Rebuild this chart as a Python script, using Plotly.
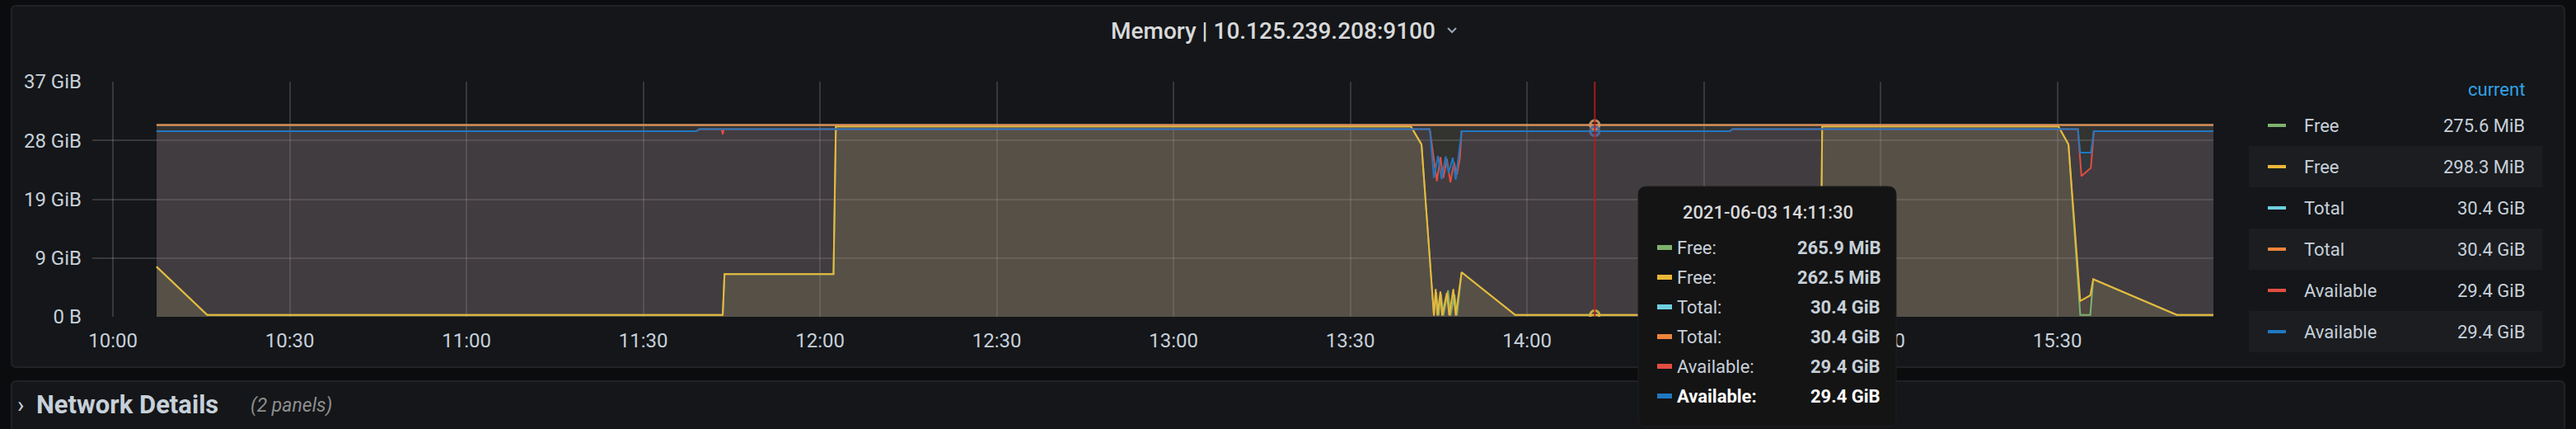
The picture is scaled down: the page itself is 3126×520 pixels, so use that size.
import plotly.graph_objects as go

DAY = "2021-06-03 "

# ---------------- data (GiB) ----------------
total_t = ["10:07:24", "15:56:30"]
total_v = [30.4, 30.4]

avail_blue_t = ["10:07:24", "11:39:00", "11:39:30", "13:43:30", "13:44:12", "13:44:54", "13:45:30",
                "13:46:12", "13:46:42", "13:47:24", "13:47:54", "13:48:24", "13:48:54", "14:34:24",
                "14:34:54", "15:33:30", "15:33:54", "15:35:42", "15:36:12", "15:56:30"]
avail_blue_v = [29.4, 29.4, 29.75, 29.75, 22.0, 25.5, 21.8,
                25.4, 22.8, 25.2, 21.7, 25.5, 29.4, 29.4,
                29.75, 29.75, 26.0, 26.0, 29.4, 29.4]

avail_red_t = ["10:07:24", "11:39:00", "11:39:30", "11:43:18", "11:43:30", "11:43:42", "13:43:30",
               "13:44:12", "13:44:42", "13:45:18", "13:45:48", "13:46:24", "13:47:00", "13:47:36",
               "13:48:06", "13:48:36", "13:48:54", "14:34:24", "14:34:54", "15:33:30", "15:34:06",
               "15:35:42", "15:36:12", "15:56:30"]
avail_red_v = [29.4, 29.4, 29.75, 29.75, 28.9, 29.75, 29.75,
               25.0, 21.5, 25.3, 22.0, 25.0, 21.3, 24.5,
               22.5, 25.0, 29.4, 29.4, 29.75, 29.75, 22.3,
               23.6, 29.4, 29.4]

free_yellow_t = ["10:07:24", "10:16:00", "11:43:30", "11:43:48", "12:02:18", "12:02:42", "13:40:18",
                 "13:42:06", "13:44:12", "13:44:30", "13:44:48", "13:45:18", "13:45:36", "13:46:24",
                 "13:46:48", "13:47:30", "13:47:54", "13:48:30", "13:48:54", "13:58:00", "14:49:48",
                 "14:50:06", "15:30:12", "15:31:54", "15:33:54", "15:35:36", "15:36:06", "15:50:18",
                 "15:56:30"]
free_yellow_v = [7.95, 0.3, 0.3, 6.75, 6.75, 30.15, 30.15,
                 27.3, 0.2, 4.4, 0.2, 4.0, 0.2, 3.8,
                 0.2, 4.4, 0.2, 4.2, 7.05, 0.3, 0.3,
                 30.15, 30.15, 27.3, 2.5, 3.4, 5.95, 0.3,
                 0.3]

free_green_t = ["10:07:24", "10:16:00", "11:43:30", "11:43:48", "12:02:18", "12:02:42", "13:40:18",
                "13:42:06", "13:44:12", "13:44:36", "13:45:00", "13:45:24", "13:45:48", "13:46:36",
                "13:47:00", "13:47:42", "13:48:06", "13:48:54", "13:58:00", "14:49:48", "14:50:06",
                "15:30:12", "15:31:54", "15:33:54", "15:35:36", "15:36:06", "15:50:18", "15:56:30"]
free_green_v = [7.95, 0.3, 0.3, 6.75, 6.75, 30.15, 30.15,
                27.3, 0.2, 3.9, 0.2, 3.6, 0.2, 4.2,
                0.2, 3.5, 0.2, 7.05, 0.3, 0.3, 30.15,
                30.15, 27.3, 0.3, 0.3, 5.95, 0.3, 0.3]

hover_time = "14:11:30"
hover_vals = [0.26, 0.256, 30.4, 30.4, 29.4, 29.4]

series_names = ["Free", "Free", "Total", "Total", "Available", "Available"]
series_colors = ["#7EB26D", "#EAB839", "#6ED0E0", "#EF843C", "#E24D42", "#1F78C1"]
legend_current = ["275.6 MiB", "298.3 MiB", "30.4 GiB", "30.4 GiB", "29.4 GiB", "29.4 GiB"]
tooltip_values = ["265.9 MiB", "262.5 MiB", "30.4 GiB", "30.4 GiB", "29.4 GiB", "29.4 GiB"]

x_tickvals = ["10:00", "10:30", "11:00", "11:30", "12:00", "12:30", "13:00", "13:30",
              "14:00", "14:30", "15:00", "15:30"]
# 14:30 is hidden under the tooltip in the reference
x_ticktext = ["10:00", "10:30", "11:00", "11:30", "12:00", "12:30", "13:00", "13:30",
              "14:00", "", "15:00", "15:30"]

y_tickvals = [0, 9.3125, 18.625, 27.9375, 37.25]
y_ticktext = ["0 B", "9 GiB", "19 GiB", "28 GiB", "37 GiB"]

title_text = "Memory | 10.125.239.208:9100"
tooltip_title = "2021-06-03 14:11:30"

# ---------------- layout geometry ----------------
W, H = 3126, 520
L, R, T, B = 112, 2686, 99, 384
PW, PH = R - L, B - T
FONT = "Roboto"
TXT = "#c7d0d9"


def px(x):
    return (x - L) / PW


def py(y):
    return (B - y) / PH


def rounded_path(x0, y0, x1, y1, r):
    rx, ry = r / PW, r / PH
    X0, X1 = px(x0), px(x1)
    Yt, Yb = py(y0), py(y1)
    return (f"M {X0+rx},{Yt} L {X1-rx},{Yt} Q {X1},{Yt} {X1},{Yt-ry} "
            f"L {X1},{Yb+ry} Q {X1},{Yb} {X1-rx},{Yb} L {X0+rx},{Yb} "
            f"Q {X0},{Yb} {X0},{Yb+ry} L {X0},{Yt-ry} Q {X0},{Yt} {X0+rx},{Yt} Z")


def ts(lst):
    return [DAY + t for t in lst]


def rgba(hexc, a):
    h = hexc.lstrip("#")
    return f"rgba({int(h[0:2],16)},{int(h[2:4],16)},{int(h[4:6],16)},{a})"


series = [
    (free_green_t, free_green_v),
    (free_yellow_t, free_yellow_v),
    (total_t, total_v),
    (total_t, total_v),
    (avail_red_t, avail_red_v),
    (avail_blue_t, avail_blue_v),
]

fig = go.Figure()

# fills (Grafana fill 1 => ~10% opacity to zero)
for (t, v), c in zip(series, series_colors):
    fig.add_trace(go.Scatter(x=ts(t), y=v, mode="lines", line=dict(width=0, color=c),
                             fill="tozeroy", fillcolor=rgba(c, 0.11), hoverinfo="skip",
                             showlegend=False))
# lines
for (t, v), c in zip(series, series_colors):
    fig.add_trace(go.Scatter(x=ts(t), y=v, mode="lines", line=dict(width=2, color=c),
                             hoverinfo="skip", showlegend=False))
# hover points
for val, c in zip(hover_vals, series_colors):
    fig.add_trace(go.Scatter(x=[DAY + hover_time], y=[val], mode="markers",
                             marker=dict(symbol="circle-open", size=11, color=rgba(c, 0.7),
                                         line=dict(width=3, color=rgba(c, 0.6))),
                             hoverinfo="skip", showlegend=False))

shapes = []
annotations = []

# panel background
shapes.append(dict(type="path", xref="paper", yref="paper", layer="below",
                   path=rounded_path(14, 7, 3112, 445, 6),
                   fillcolor="#141619", line=dict(color="#202226", width=2)))
# next row panel
shapes.append(dict(type="path", xref="paper", yref="paper", layer="below",
                   path=rounded_path(14, 462, 3112, 560, 6),
                   fillcolor="#141619", line=dict(color="#202226", width=2)))
# legend alternating rows
for i in range(6):
    yc = 152 + 50 * i
    if i % 2 == 1:
        shapes.append(dict(type="rect", xref="paper", yref="paper", layer="below",
                           x0=px(2729), x1=px(3085), y0=py(yc - 25), y1=py(yc + 25),
                           fillcolor="#1b1d21", line=dict(width=0)))
    shapes.append(dict(type="line", xref="paper", yref="paper",
                       x0=px(2752), x1=px(2774), y0=py(yc), y1=py(yc),
                       line=dict(color=series_colors[i], width=4)))
    annotations.append(dict(xref="paper", yref="paper", x=px(2794), y=py(yc), text=series_names[i],
                            xanchor="left", yanchor="middle", showarrow=False,
                            font=dict(family=FONT, size=22, color=TXT)))
    annotations.append(dict(xref="paper", yref="paper", x=px(3066), y=py(yc), text=legend_current[i],
                            xanchor="right", yanchor="middle", showarrow=False,
                            font=dict(family=FONT, size=22, color=TXT)))
annotations.append(dict(xref="paper", yref="paper", x=px(3066), y=py(108), text="current",
                        xanchor="right", yanchor="middle", showarrow=False,
                        font=dict(family=FONT, size=22, color="#33A2E5")))

# title
annotations.append(dict(xref="paper", yref="paper", x=px(1545), y=py(37), text=title_text,
                        xanchor="center", yanchor="middle", showarrow=False,
                        font=dict(family=FONT, size=28, color="#d8d9da", weight=500)))
shapes.append(dict(type="path", xref="paper", yref="paper",
                   path=f"M {px(1757)},{py(34)} L {px(1762)},{py(39)} L {px(1767)},{py(34)}",
                   line=dict(color="#9fa7b3", width=2)))

# crosshair
shapes.append(dict(type="line", xref="x", yref="paper", x0=DAY + hover_time, x1=DAY + hover_time,
                   y0=0, y1=1, line=dict(color="rgba(190,25,25,0.85)", width=2)))

# tooltip
shapes.append(dict(type="path", xref="paper", yref="paper", layer="above",
                   path=rounded_path(1988, 226, 2301, 517, 10),
                   fillcolor="#141414", line=dict(color="#1e1e1e", width=1)))
annotations.append(dict(xref="paper", yref="paper", x=px(2145), y=py(257), text=tooltip_title,
                        xanchor="center", yanchor="middle", showarrow=False,
                        font=dict(family=FONT, size=22, color="#d8d9da", weight=500)))
for i in range(6):
    yc = 300 + 36 * i
    last = i == 5
    shapes.append(dict(type="rect", xref="paper", yref="paper", layer="above",
                       x0=px(2011), x1=px(2029), y0=py(yc - 3), y1=py(yc + 3),
                       fillcolor=series_colors[i], line=dict(width=0)))
    annotations.append(dict(xref="paper", yref="paper", x=px(2033), y=py(yc), text=series_names[i] + ":",
                            xanchor="left", yanchor="middle", showarrow=False,
                            font=dict(family=FONT, size=22, color="#ffffff" if last else TXT,
                                      weight=700 if last else 400)))
    annotations.append(dict(xref="paper", yref="paper", x=px(2284), y=py(yc), text=tooltip_values[i],
                            xanchor="right", yanchor="middle", showarrow=False,
                            font=dict(family=FONT, size=22, color="#ffffff" if last else TXT,
                                      weight=700)))

# row title
annotations.append(dict(xref="paper", yref="paper", x=px(19), y=py(490), text="›",
                        xanchor="left", yanchor="middle", showarrow=False,
                        font=dict(family=FONT, size=28, color=TXT)))
annotations.append(dict(xref="paper", yref="paper", x=px(42), y=py(490), text="Network Details",
                        xanchor="left", yanchor="middle", showarrow=False,
                        font=dict(family=FONT, size=31, color=TXT, weight=700)))
annotations.append(dict(xref="paper", yref="paper", x=px(302), y=py(491), text="<i>(2 panels)</i>",
                        xanchor="left", yanchor="middle", showarrow=False,
                        font=dict(family=FONT, size=23, color="#8e8e8e")))

fig.update_layout(
    width=W, height=H,
    margin=dict(l=L, r=W - R, t=T, b=H - B, pad=0),
    paper_bgcolor="#0b0c0e", plot_bgcolor="rgba(0,0,0,0)",
    showlegend=False,
    shapes=shapes, annotations=annotations,
    font=dict(family=FONT, color=TXT, size=22),
    xaxis=dict(type="date", range=[DAY + "09:56:30", DAY + "15:56:30"],
               tickvals=ts(x_tickvals), ticktext=x_ticktext,
               showgrid=True, gridcolor="rgba(255,255,255,0.15)", gridwidth=1.5,
               zeroline=False, showline=False, ticks="", ticklabelstandoff=12,
               tickfont=dict(family=FONT, size=24, color=TXT)),
    yaxis=dict(range=[0, 37.25], tickvals=y_tickvals, ticktext=y_ticktext,
               showgrid=True, gridcolor="rgba(255,255,255,0.15)", gridwidth=1.5,
               zeroline=False, showline=False, ticks="", ticklabelstandoff=12,
               tickfont=dict(family=FONT, size=24, color=TXT)),
)

fig.write_html("out.html", config={"displayModeBar": False},
               post_script="document.body.style.margin='0';document.body.style.background='#0b0c0e';")
